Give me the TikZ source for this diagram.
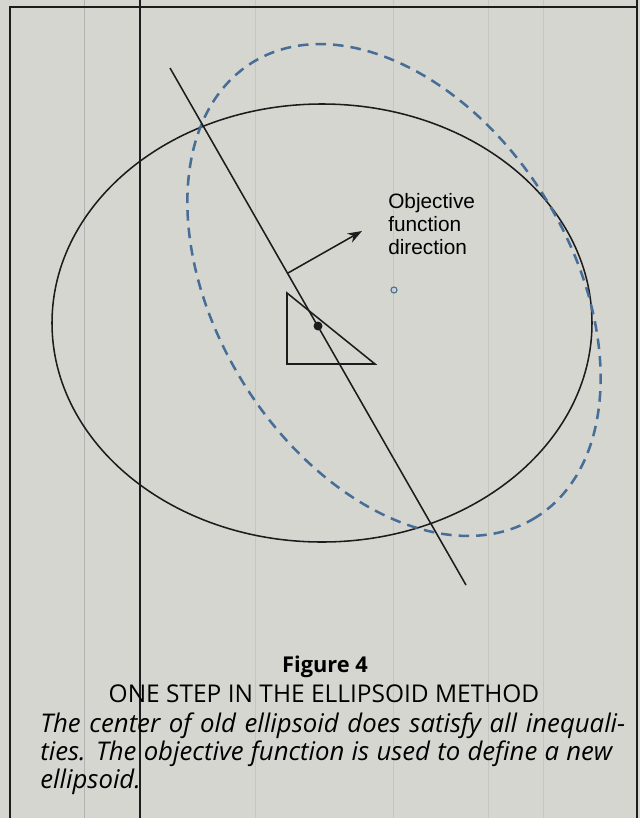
\documentclass[tikz,border=0pt]{standalone}
\usepackage{fontspec}
\setmainfont{Open Sans}
\newfontfamily\helv{Liberation Sans}
\usetikzlibrary{arrows.meta}

\definecolor{paper}{RGB}{214,214,209}
\definecolor{streak}{RGB}{198,198,193}
\definecolor{ink}{RGB}{28,28,28}
\definecolor{newell}{RGB}{70,110,150}

\begin{document}
\begin{tikzpicture}[
  x=0.025cm, y=-0.025cm,
  frame/.style={ink, line width=1pt},
  rule/.style={gray!60, line width=0.7pt},
  faint/.style={streak, line width=0.7pt},
  curve/.style={ink, line width=1.1pt},
  newcurve/.style={newell, line width=1.8pt, dash pattern=on 7.5pt off 5pt},
  arrow/.style={-{Stealth[length=3.6mm, width=2.6mm]}, ink, line width=1.1pt},
  lbl/.style={font=\helv\fontsize{14.8}{16.3}\selectfont, align=left, inner sep=0pt},
  captxt/.style={inner sep=0pt, anchor=base},
  capit/.style={inner sep=0pt, anchor=base west, font=\itshape\fontsize{18.3}{20}\selectfont}
]
% ---- Page ----
\fill[paper] (0,0) rectangle (640,818);
\useasboundingbox (0,0) rectangle (640,818);
\foreach \sx in {255,393,488,543} \draw[faint] (\sx,0) -- (\sx,818);
\draw[rule] (84,0) -- (84,818);
\draw[frame] (10,818) -- (10,7) -- (637,7);
\draw[frame] (637,0) -- (637,818);
\draw[frame] (140,0) -- (140,818);

% ---- Points ----
\coordinate (oldc) at (322,323);
\coordinate (newc) at (394,290);
\coordinate (cuttop) at (170,68);
\coordinate (cutbot) at (466,585);
\coordinate (arrtail) at (288,273);
\coordinate (arrhead) at (362,231);
\coordinate (tritop) at (287,293);
\coordinate (trileft) at (287,364);
\coordinate (triright) at (375,364);
\coordinate (centdot) at (318,326);

% ---- Old and new ellipsoid ----
\draw[curve] (oldc) ellipse [x radius=270, y radius=219];
\draw[newcurve, rotate around={-58:(newc)}] (newc) ellipse [x radius=268, y radius=177];
\draw[newell, line width=0.8pt] (newc) circle [radius=3];

% ---- Cut, direction, feasible set ----
\draw[curve] (cuttop) -- (cutbot);
\draw[arrow] (arrtail) -- (arrhead);
\draw[curve] (tritop) -- (trileft) -- (triright) -- cycle;
\fill[ink] (centdot) circle [radius=4.5];

\node[lbl, anchor=north west] (objlbl) at (388,193) {Objective\\function\\direction};

% ---- Caption ----
\node[captxt, font=\bfseries\fontsize{15.5}{18}\selectfont] (fignum) at (325,672) {Figure 4};
\node[captxt, font=\fontsize{17.4}{20}\selectfont] (figtitle) at (324,702)
  {ONE STEP IN THE ELLIPSOID METHOD};
\node[capit] (capa) at (40,732)
  {\makebox[14.625cm][s]{The center of old ellipsoid does satisfy all inequali-}};
\node[capit] (capb) at (40,760)
  {\makebox[14.3cm][s]{ties. The objective function is used to define a new}};
\node[capit] (capc) at (40,788) {ellipsoid.};
\end{tikzpicture}
\end{document}
